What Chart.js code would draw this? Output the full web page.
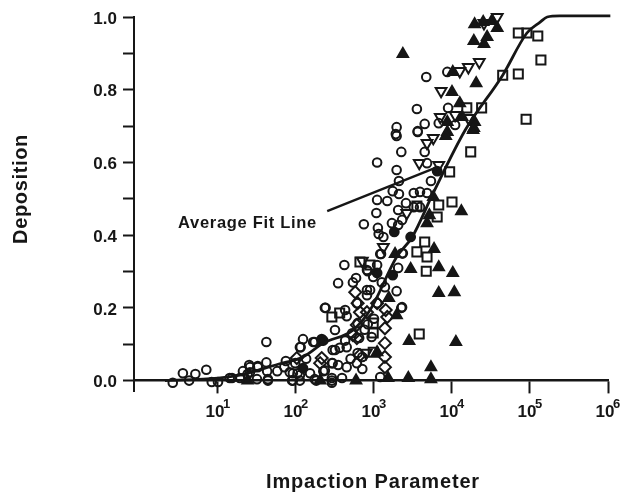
<!DOCTYPE html>
<html>
<head>
<meta charset="utf-8">
<style>
  html, body { margin: 0; padding: 0; background: #fff; }
  #chart { display: block; }
</style>
<script src="https://cdn.jsdelivr.net/npm/chart.js@4"></script>
</head>
<body>
<canvas id="chart" width="622" height="493"></canvas>
<script>
const circle_exp = [.42,.55,.63,.71,.85,.92,1,1.18,1.28,1.32,1.41,1.38,1.51,1.5,1.62,1.62,1.63,1.64,1.76,1.85,1.87,1.95,1.96,1.99,2.05,2.37,2.09,2.06,2.22,1.4,1.41,1.51,1.15,1.64,1.92,1.96,2.05,2.24,2.37,2.46,2.35,2.47,2.46,2.05,2.62,2.54,3.09,3.37,3.04,2.91,2.77,2.73,2.91,3.29,2.78,2.38,2.63,2.65,3.35,3.04,2.92,2.79,2.5,2.24,2.33,2.63,2.81,2.65,2.5,2.79,2.85,2.47,2.54,2.65,2.78,2.85,2.46,2.59,3.08,2.35,2.26,2.46,3.29,3.56,3.35,3.65,3.04,3.68,3.29,3.32,3.73,3.24,3.32,3.51,3.59,3.68,3.04,3.17,3.41,3.59,3.51,3.03,3.31,2.87,3.23,3.05,3.36,3.06,3.12,3.31,3.08,3.36,3.67,3.94,3.55,3.65,3.29,3.28,3.56,3.83,3.95,4.04,3.31,2.92,2.99,2.95,3.14,2.91,3.36,2.72,2.88,3,2.56,2.7,2.97,2.13,2.18,2.02,3.1];
const circle_dep = [-.006,.02,0,.018,.03,-.004,-.004,.007,.007,.026,.037,.018,.037,.004,.106,.05,.026,0,.026,.037,.054,0,.02,.048,.092,.2,.114,.092,.106,.043,.023,.04,.007,.004,.023,0,0,.004,.028,.048,.11,.084,0,.015,.318,.268,.348,.35,.318,.304,.282,.27,.249,.246,.213,.2,.194,.177,.2,.213,.155,.158,.139,.106,.11,.11,.117,.092,.084,.076,.065,.048,.043,.037,.048,.032,.007,.007,.01,.026,0,-.006,.673,.684,.629,.629,.6,.598,.579,.549,.549,.521,.513,.516,.519,.516,.497,.494,.488,.477,.477,.461,.469,.43,.433,.42,.442,.403,.395,.428,.348,.35,.835,.849,.747,.706,.697,.678,.686,.708,.75,.703,.31,.301,.285,.249,.257,.235,.202,.13,.14,.17,.09,.06,.12,.06,.02,.02,.27];

const square_exp = [4.85,4.96,5.1,5.14,4.65,4.85,4.95,4.38,4.19,4.24,3.97,4,3.83,3.55,3.81,3.65,3.55,3.68,2.82,3.67,2.95,2.46,2.56,2.99,2.99,2.99,3.58];
const square_dep = [.956,.956,.948,.882,.84,.843,.719,.75,.75,.629,.574,.491,.483,.48,.45,.381,.354,.34,.326,.301,.318,.175,.186,.158,.131,.078,.128];

const diamond_exp = [2.76,3.15,3.14,3.14,3.14,3.14,2.78,2.33,2.31,2.01,2.78,2.91,2.73,3.04,2.82,2.79,3.17,2.82];
const diamond_dep = [.243,.194,.144,.103,.065,.037,.153,.062,.048,.062,.117,.188,.125,.213,.188,.213,.175,.07];

const open_down_exp = [4.58,4.41,4.35,4.21,4.1,3.86,3.85,4.04,4.21,3.76,3.68,3.58,3.83,3.12,2.85,2.9,3.42];
const open_down_dep = [1,.983,.876,.862,.851,.796,.725,.73,.722,.667,.653,.598,.593,.367,.329,.076,.461];

const tri_exp = [3.37,4.29,4.4,4.51,4.58,4.45,4.28,4.41,4.01,4.31,4,4.1,3.94,4.13,4.29,4.28,3.94,3.92,4.27,4.12,3.76,3.71,3.68,3.27,3.77,3.47,3.83,4.01,3.83,4.03,3.19,3.29,3.45,4.05,3.04,3.73,2.77,3.18,3.44,3.73,1.38,2.31];
const tri_dep = [.898,.98,.986,.989,.97,.945,.934,.926,.849,.818,.794,.763,.711,.725,.711,.695,.684,.673,.689,.466,.505,.455,.433,.348,.362,.307,.312,.296,.241,.243,.227,.18,.109,.106,.078,.037,0,.007,.007,.004,0,0];

const dot_exp = [3.81,3.26,3.47,3.24,3.04,2.09,2.33];
const dot_dep = [.576,.409,.395,.29,.296,.034,.114];

const fit_exp = [.32,1,1.28,1.77,2.09,2.35,2.73,2.95,3.29,3.49,3.76,4.17,4.65,4.96,5.13,5.22,5.38,6.03];
const fit_dep = [0,.007,.015,.045,.065,.103,.139,.194,.34,.395,.516,.689,.84,.956,.986,1,1.003,1.003];

const leader_exp = [2.4,3.81];
const leader_dep = [.466,.587];

const x_tick_exp = [1,2,3,4,5,6];
const y_tick_values = [0,.1,.2,.3,.4,.5,.6,.7,.8,.9,1];
const y_labelled = [0,.2,.4,.6,.8,1];

const x_title = "Impaction Parameter";
const y_title = "Deposition";
const fit_label = "Average Fit Line";

const ink = "#161616";
const font_name = "'Liberation Sans', Arial, sans-serif";

function points(exps, deps) {
  return exps.map((e, i) => ({ x: Math.pow(10, e), y: deps[i] }));
}
function marks(exps, deps, style, radius, filled, rotation) {
  return {
    data: points(exps, deps),
    pointStyle: style,
    pointRadius: radius,
    pointRotation: rotation || 0,
    pointBorderWidth: 2,
    pointBorderColor: ink,
    pointBackgroundColor: filled ? ink : "transparent",
    showLine: false,
    clip: false
  };
}
function line(exps, deps, width, smooth) {
  return {
    data: points(exps, deps),
    showLine: true,
    pointRadius: 0,
    borderColor: ink,
    borderWidth: width,
    cubicInterpolationMode: smooth ? "monotone" : "default",
    clip: false
  };
}

// superscript decade labels and the free text are drawn on top of the axes
const text_plugin = {
  id: "text_plugin",
  afterDraw(chart) {
    const ctx = chart.ctx;
    const x_scale = chart.scales.x;
    const y_scale = chart.scales.y;
    ctx.save();
    ctx.fillStyle = ink;
    ctx.textBaseline = "alphabetic";
    x_tick_exp.forEach(e => {
      const px = x_scale.getPixelForValue(Math.pow(10, e));
      ctx.font = "bold 17px " + font_name;
      ctx.textAlign = "center";
      ctx.fillText("10", px - 3, 417);
      ctx.font = "bold 13px " + font_name;
      ctx.textAlign = "left";
      ctx.fillText(String(e), px + 5, 408);
    });
    ctx.font = "bold 16.5px " + font_name;
    ctx.letterSpacing = "0.7px";
    ctx.textAlign = "left";
    ctx.fillText(fit_label, 178, y_scale.getPixelForValue(.42));
    ctx.font = "bold 20px " + font_name;
    ctx.letterSpacing = "0.85px";
    ctx.textAlign = "center";
    ctx.fillText(x_title, 373, 488);
    ctx.letterSpacing = "0.65px";
    ctx.translate(27, 189);
    ctx.rotate(-Math.PI / 2);
    ctx.fillText(y_title, 0, 0);
    ctx.restore();
  }
};

new Chart(document.getElementById("chart"), {
  type: "scatter",
  plugins: [text_plugin],
  data: {
    datasets: [
      line(fit_exp, fit_dep, 2.8, true),
      line(leader_exp, leader_dep, 2.4, false),
      marks(circle_exp, circle_dep, "circle", 4.3, false),
      marks(square_exp, square_dep, "rect", 6.4, false),
      marks(diamond_exp, diamond_dep, "rectRot", 6, false),
      marks(open_down_exp, open_down_dep, "triangle", 6.2, false, 180),
      marks(tri_exp, tri_dep, "triangle", 6, true),
      marks(dot_exp, dot_dep, "circle", 4.4, true)
    ]
  },
  options: {
    responsive: false,
    animation: false,
    layout: { padding: { top: 17, right: 14, bottom: 101.5, left: 0 } },
    plugins: { legend: { display: false }, tooltip: { enabled: false } },
    scales: {
      x: {
        type: "logarithmic",
        position: { y: 0 },
        min: 0.838,
        max: 1e6,
        afterBuildTicks: axis => {
          axis.ticks = x_tick_exp.map(e => ({ value: Math.pow(10, e) }));
        },
        ticks: { callback: () => "", autoSkip: false },
        grid: { drawOnChartArea: false, tickLength: 12, tickWidth: 2, tickColor: ink },
        border: { color: ink, width: 2.4 }
      },
      y: {
        min: -0.03,
        max: 1,
        afterBuildTicks: axis => {
          axis.ticks = y_tick_values.map(v => ({ value: v }));
        },
        afterFit: axis => { axis.width = 134; },
        ticks: {
          autoSkip: false,
          padding: 6,
          labelOffset: 2,
          color: ink,
          font: { family: font_name, size: 17, weight: "bold" },
          callback: v => y_labelled.some(l => Math.abs(l - v) < 1e-6) ? v.toFixed(1) : ""
        },
        grid: { drawOnChartArea: false, tickLength: 11, tickWidth: 2, tickColor: ink },
        border: { color: ink, width: 2 }
      }
    }
  }
});
</script>
</body>
</html>
